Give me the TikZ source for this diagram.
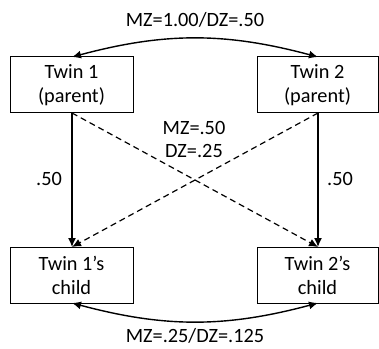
\documentclass[tikz,border=0pt]{standalone}
\usepackage{fontspec}
\setmainfont{Carlito}
\usetikzlibrary{arrows.meta}
\begin{document}
\begin{tikzpicture}[x=1pt,y=1pt,
  lbl/.style={font=\fontsize{20.3}{24}\selectfont, inner sep=0pt},
  box/.style={draw, line width=1pt, minimum height=56pt, align=center, inner sep=0pt,
    font=\fontsize{20.3}{24}\selectfont},
  arr/.style={line width=1.4pt, -{Latex[length=9pt,width=8pt]}},
  darr/.style={line width=1.2pt, dash pattern=on 6pt off 4pt, -{Latex[length=9pt,width=8pt]}},
  barr/.style={line width=1.4pt, {Latex[length=9pt,width=8pt]}-{Latex[length=9pt,width=8pt]}}]
\useasboundingbox (0,0) rectangle (379,348);
\node[box, minimum width=123pt] (A) at (71.5,263) {Twin 1\\(parent)};
\node[box, minimum width=121pt] (B) at (317.5,263) {Twin 2\\(parent)};
\node[box, minimum width=123pt] (C) at (71.5,73) {Twin 1’s\\child};
\node[box, minimum width=121pt] (D) at (317.5,73) {Twin 2’s\\child};
\coordinate (As) at (72,235);
\coordinate (Bs) at (318,235);
\coordinate (Cn) at (72,101);
\coordinate (Dn) at (318,101);
\coordinate (An) at (72,291);
\coordinate (Bn) at (318,291);
\coordinate (Cs) at (72,45);
\coordinate (Ds) at (318,45);
\draw[arr] (As) -- (Cn);
\draw[arr] (Bs) -- (Dn);
\draw[darr] (As) -- (Dn);
\draw[darr] (Bs) -- (Cn);
\draw[barr] (An) to[out=15,in=165] (Bn);
\draw[barr] (Cs) to[out=-15,in=-165] (Ds);
\node[lbl, anchor=base] (top) at (195,321) {MZ=1.00/DZ=.50};
\node[lbl, anchor=base] (bot) at (195,6) {MZ=.25/DZ=.125};
\node[lbl, anchor=base] (mz) at (194,213) {MZ=.50};
\node[lbl, anchor=base] (dz) at (194,190) {DZ=.25};
\node[lbl, anchor=base] (l) at (49,162) {.50};
\node[lbl, anchor=base] (r) at (340,162) {.50};
\end{tikzpicture}
\end{document}
